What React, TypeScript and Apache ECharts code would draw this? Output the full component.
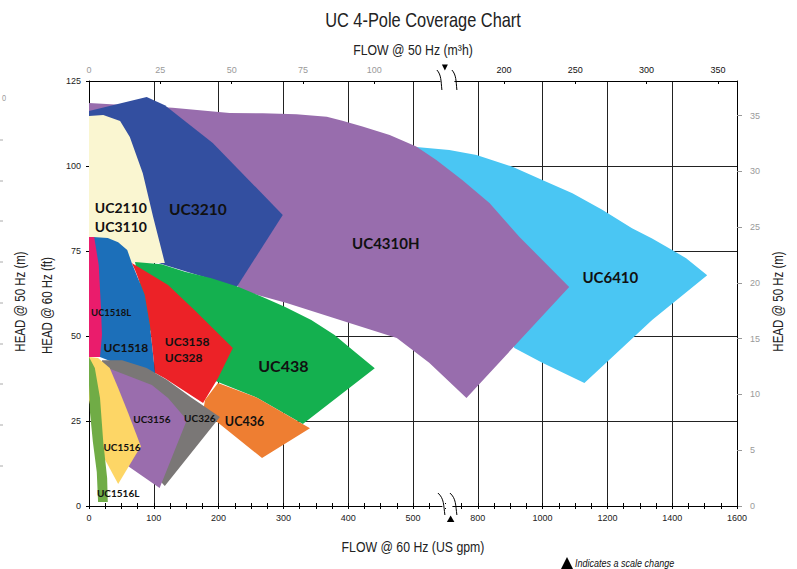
import React, { useEffect, useRef } from "react";
import * as echarts from "echarts";

type Pt = [number, number]; // [flow @ 60 Hz (US gpm), head @ 60 Hz (ft)]

// ---- axis values ----
const BOTTOM_MAX_U = 10; // 0..500 gpm by 100, then 800..1600 by 200 (scale change at 550 / 700)
const TOP_TICKS_M3H = [0, 25, 50, 75, 100, 200, 250, 300, 350];
const RIGHT_TICKS_M = [0, 5, 10, 15, 20, 25, 30, 35];
const HEAD_FT_MAX = 125;
const HEAD_FT_INTERVAL = 25;
const GPM_PER_M3H = 4.403;
const FT_PER_M = 3.28084;

// ---- coverage areas (gpm, ft) ----
const UC6410: Pt[] = [[505, 105.6], [712, 104.7], [796, 103.2], [907, 99.8], [999, 95.9], [1092, 92.0], [1184, 87.1], [1276, 81.7], [1338, 78.7], [1381, 76.3], [1443, 72.9], [1508, 67.9], [1338, 54.7], [1129, 36.2], [999, 42.1], [913, 46.5], [836, 60.6], [525, 98.8]];
const UC4310H: Pt[] = [[0, 118.5], [129, 117.1], [217, 115.6], [268, 115.5], [320, 115.2], [367, 114.5], [391, 113.3], [422, 111.6], [464, 109.1], [505, 105.7], [536, 101.8], [752, 95.9], [836, 89.1], [928, 79.2], [1082, 64.4], [765, 31.8], [525, 42.1], [475, 49.4], [402, 53.8], [305, 59.7], [233, 63.5], [171, 84.1], [0, 115.9]];
const UC3210: Pt[] = [[0, 116.2], [89, 120.3], [117, 117.9], [191, 106.8], [299, 85.6], [228, 64.4], [117, 70.9], [0, 78.2]];
const UC2110: Pt[] = [[0, 114.7], [22, 115.0], [48, 113.2], [63, 108.5], [83, 97.9], [99, 85.0], [117, 71.5], [63, 71.5], [0, 79.1]];
const UC438: Pt[] = [[71, 71.8], [112, 71.1], [148, 68.9], [189, 67.0], [230, 64.5], [266, 61.6], [302, 58.6], [343, 54.7], [379, 50.3], [410, 45.4], [441, 40.5], [330, 24.1], [260, 31.8], [199, 36.5], [156, 40.0], [94, 51.8]];
const UC1518: Pt[] = [[6, 79.1], [29, 78.8], [45, 77.6], [59, 75.3], [66, 71.5], [86, 62.1], [94, 53.2], [102, 39.1], [48, 41.5], [17, 43.8], [6, 60.6]];
const UC1518L: Pt[] = [[0, 79.1], [8, 79.1], [15, 70.9], [18.5, 58.2], [20, 50.3], [17, 43.8], [0, 43.8]];
const UC3158: Pt[] = [[66, 71.5], [122, 65.0], [163, 57.6], [222, 46.5], [199, 37.6], [176, 30.3], [117, 37.6], [102, 39.1], [94, 53.2], [86, 62.1], [71, 69.4]];
const UC436: Pt[] = [[179, 31.2], [199, 36.2], [260, 31.8], [341, 22.9], [267, 14.1], [194, 25.3], [176, 27.6]];
const UC326: Pt[] = [[20, 42.9], [51, 42.9], [89, 40.6], [120, 37.1], [156, 32.1], [202, 26.2], [117, 5.9], [94, 10.6], [48, 31.2], [20, 40.0]];
const UC3156: Pt[] = [[29, 40.6], [66, 37.9], [97, 35.6], [122, 31.8], [151, 25.3], [109, 5.3], [60, 11.8], [45, 32.6]];
const UC1516: Pt[] = [[0, 43.8], [14, 43.5], [32, 40.6], [45, 34.7], [60, 27.6], [80, 17.6], [45, 6.5], [25, 13.5], [11, 22.4], [0, 31.2]];
const UC1516L: Pt[] = [[0, 43.8], [9, 40.6], [17, 31.8], [22, 18.8], [28, 8.2], [29, 1.2], [14, 1.2], [12, 10.0], [6, 18.8], [1.5, 27.6], [0, 35.6]];

// ---- area labels: text, anchor (gpm, ft) ----
const LABEL_TEXT = ["UC2110\nUC3110", "UC3210", "UC4310H", "UC6410", "UC438", "UC3158\nUC328", "UC1518L", "UC1518", "UC3156", "UC326", "UC436", "UC1516", "UC1516L"];
const LABEL_AT: Pt[] = [[9, 85.1], [168, 87.4], [458, 77.4], [1209, 67.4], [300, 41.2], [117, 45.9], [34, 56.8], [57, 46.5], [97, 25.6], [171, 25.9], [240, 25.0], [51, 17.4], [45, 3.8]];

// ---- styles ----
const SHAPES: { name: string; pts: Pt[]; color: string }[] = [
  { name: "UC6410", pts: UC6410, color: "#4AC6F3" },
  { name: "UC4310H", pts: UC4310H, color: "#986DAD" },
  { name: "UC3210", pts: UC3210, color: "#334FA0" },
  { name: "UC2110", pts: UC2110, color: "#FAF6D1" },
  { name: "UC438", pts: UC438, color: "#14B04F" },
  { name: "UC1518", pts: UC1518, color: "#1C6FB9" },
  { name: "UC1518L", pts: UC1518L, color: "#EA1C6C" },
  { name: "UC3158", pts: UC3158, color: "#EC2227" },
  { name: "UC436", pts: UC436, color: "#EE7E32" },
  { name: "UC326", pts: UC326, color: "#7A7776" },
  { name: "UC3156", pts: UC3156, color: "#9A6DAD" },
  { name: "UC1516", pts: UC1516, color: "#FDD666" },
  { name: "UC1516L", pts: UC1516L, color: "#70AC46" },
];
const LABEL_SIZE = [14, 15.5, 15, 15, 16, 12, 9.5, 12, 10, 10, 12.5, 10, 10];
const LABEL_ALIGN = ["left", "center", "center", "center", "center", "left", "center", "center", "center", "center", "center", "center", "center"];
const LABEL_LH = [19, 16, 16, 16, 16, 16, 12, 12, 12, 12, 12, 12, 12];

const SANS = "'Liberation Sans', Arial, sans-serif";
const BOLDF = "Lato, 'Open Sans', sans-serif";
const NARROW_SCALE = 0.82;

function gpmToU(g: number): number {
  return g <= 550 ? g / 100 : 6 + (g - 800) / 200;
}
function uToGpm(u: number): number {
  return u <= 5.5 ? u * 100 : 800 + (u - 6) * 200;
}

export default function App() {
  const ref = useRef<HTMLDivElement>(null);
  useEffect(() => {
    document.body.style.margin = "0";
    const chart = echarts.init(ref.current!, undefined, { renderer: "svg", width: 797, height: 569 });
    const topU = TOP_TICKS_M3H.map((m) => gpmToU(m * GPM_PER_M3H));

    const polySeries: any[] = SHAPES.map((s) => ({
      type: "custom",
      name: s.name,
      coordinateSystem: "cartesian2d",
      xAxisIndex: 0,
      yAxisIndex: 0,
      silent: true,
      data: s.pts.map(([g, h]) => [gpmToU(g), h]),
      renderItem: (params: any, api: any) => {
        if (params.dataIndex !== 0) return null;
        const points = s.pts.map(([g, h]) => api.coord([gpmToU(g), h]));
        return { type: "polygon", shape: { points }, style: { fill: s.color } };
      },
    }));

    const labelSeries = {
      type: "custom",
      name: "labels",
      coordinateSystem: "cartesian2d",
      xAxisIndex: 0,
      yAxisIndex: 0,
      silent: true,
      data: LABEL_AT.map(([g, h]) => [gpmToU(g), h]),
      renderItem: (params: any, api: any) => {
        const i = params.dataIndex;
        const p = api.coord([api.value(0), api.value(1)]);
        return {
          type: "text",
          x: p[0],
          y: p[1],
          style: {
            text: LABEL_TEXT[i],
            fontSize: LABEL_SIZE[i],
            fontWeight: "bold",
            fontFamily: BOLDF,
            fill: "#111",
            align: LABEL_ALIGN[i],
            verticalAlign: "middle",
            lineHeight: LABEL_LH[i],
          },
        };
      },
    };

    const tickLbl = { fontSize: 9, fontFamily: SANS };

    chart.setOption({
      animation: false,
      backgroundColor: "#ffffff",
      grid: { left: 89, right: 60, top: 81, bottom: 63 },
      xAxis: [
        {
          type: "value",
          position: "bottom",
          min: 0,
          max: BOTTOM_MAX_U,
          interval: 1,
          axisLine: { show: true, onZero: false, lineStyle: { color: "#000", width: 1 } },
          axisTick: { show: true, length: 3, lineStyle: { color: "#000" } },
          minorTick: { show: true, splitNumber: 4, length: 3, lineStyle: { color: "#000" } },
          axisLabel: { ...tickLbl, color: "#222", margin: 7, formatter: (v: number) => String(Math.round(uToGpm(v))) },
          splitLine: { show: true, lineStyle: { color: "#222", width: 1 } },
        },
        {
          type: "value",
          position: "top",
          min: 0,
          max: BOTTOM_MAX_U,
          axisLine: { show: true, onZero: false, lineStyle: { color: "#000", width: 1 } },
          axisTick: { show: true, inside: true, length: 3, customValues: topU, lineStyle: { color: "#000" } },
          axisLabel: {
            show: true,
            margin: 7,
            customValues: topU,
            formatter: (v: number) => {
              const m = Math.round(uToGpm(v) / GPM_PER_M3H);
              return m <= 100 ? `{g|${m}}` : `{b|${m}}`;
            },
            rich: { g: { ...tickLbl, color: "#9a9a9a" }, b: { ...tickLbl, color: "#111" } },
          },
          splitLine: { show: false },
        },
        {
          type: "value",
          position: "bottom",
          min: 0,
          max: BOTTOM_MAX_U,
          interval: 1,
          axisLine: { show: false },
          axisTick: { show: true, inside: true, length: 3, lineStyle: { color: "#000" } },
          minorTick: { show: true, splitNumber: 4, length: 3, lineStyle: { color: "#000" } },
          axisLabel: { show: false },
          splitLine: { show: false },
        },
      ],
      yAxis: [
        {
          type: "value",
          position: "left",
          min: 0,
          max: HEAD_FT_MAX,
          interval: HEAD_FT_INTERVAL,
          axisLine: { show: true, onZero: false, lineStyle: { color: "#000", width: 1 } },
          axisTick: { show: true, length: 3, lineStyle: { color: "#000" } },
          axisLabel: { ...tickLbl, color: "#222", margin: 8 },
          splitLine: { show: true, lineStyle: { color: "#222", width: 1 } },
        },
        {
          type: "value",
          position: "right",
          min: 0,
          max: HEAD_FT_MAX / FT_PER_M,
          axisLine: { show: true, onZero: false, lineStyle: { color: "#000", width: 1 } },
          axisTick: { show: true, length: 5, customValues: RIGHT_TICKS_M, lineStyle: { color: "#999" } },
          axisLabel: { ...tickLbl, color: "#9a9a9a", margin: 13, customValues: RIGHT_TICKS_M },
          splitLine: { show: false },
        },
      ],
      series: [...polySeries, labelSeries],
    });

    const xb = chart.convertToPixel({ xAxisIndex: 0 }, 5.5) as number;
    const yT = chart.convertToPixel({ yAxisIndex: 0 }, HEAD_FT_MAX) as number;
    const yB = chart.convertToPixel({ yAxisIndex: 0 }, 0) as number;
    const xMid = (89 + 737) / 2;
    const yMid = (yT + yB) / 2 + 8;

    const squig = (x1: number, y1: number, x2: number, y2: number) => {
      const dx = x2 - x1, dy = y2 - y1;
      return {
        type: "bezierCurve",
        z: 100,
        shape: { x1, y1, cpx1: x1 + dx * 0.9, cpy1: y1 + dy * 0.25, cpx2: x2 - dx * 0.2, cpy2: y1 + dy * 0.55, x2, y2 },
        style: { stroke: "#000", lineWidth: 1, fill: null },
      };
    };
    const txt = (text: string, x: number, y: number, size: number, extra: any = {}) => ({
      type: "text",
      z: 100,
      x,
      y,
      scaleX: NARROW_SCALE,
      ...extra,
      style: { text, fontSize: size, fontFamily: SANS, fill: "#222", align: "center", verticalAlign: "middle", ...(extra.style || {}) },
    });
    const leftTicks = [140, 181, 221, 262, 303, 344, 384, 425, 466];

    chart.setOption({
      graphic: [
        { type: "rect", z: 99, shape: { x: xb - 5, y: yT - 2, width: 14, height: 4 }, style: { fill: "#fff" } },
        { type: "rect", z: 99, shape: { x: xb - 3, y: yB - 2, width: 10, height: 4 }, style: { fill: "#fff" } },
        squig(xb - 8.5, yT - 11, xb - 3.5, yT + 9),
        squig(xb + 6.5, yT - 11, xb + 11.5, yT + 9),
        squig(xb - 7.5, yB - 13, xb - 0.5, yB + 9),
        squig(xb + 4.5, yB - 13, xb + 11.5, yB + 9),
        { type: "polygon", z: 100, shape: { points: [[xb - 3.5, yT - 16.5], [xb + 2.5, yT - 16.5], [xb - 0.5, yT - 10.5]] }, style: { fill: "#000" } },
        { type: "polygon", z: 100, shape: { points: [[xb + 1.5, yB + 16], [xb + 9, yB + 16], [xb + 5.2, yB + 9.5]] }, style: { fill: "#000" } },
        { type: "polygon", z: 100, shape: { points: [[561, 569], [573, 569], [567, 557]] }, style: { fill: "#000" } },
        txt("Indicates a scale change", 575, 563, 11, { style: { align: "left", fontStyle: "italic", fill: "#111" } }),
        txt("UC 4-Pole Coverage Chart", 423, 20, 20),
        txt("FLOW @ 50 Hz (m\u00b3h)", xMid, 50, 15),
        txt("FLOW @ 60 Hz (US gpm)", xMid, 547, 15),
        txt("HEAD @ 60 Hz (ft)", 47, yMid + 4, 14, { rotation: Math.PI / 2 }),
        txt("HEAD @ 50 Hz (m)", 20, yMid, 14, { rotation: Math.PI / 2 }),
        txt("HEAD @ 50 Hz (m)", 778, yMid, 14, { rotation: Math.PI / 2 }),
        txt("0", 4, 98, 9, { style: { fill: "#999" } }),
        ...leftTicks.map((y) => ({ type: "line", z: 100, shape: { x1: 0, y1: y, x2: 3, y2: y }, style: { stroke: "#aaa", lineWidth: 1 } })),
      ],
    });

    return () => chart.dispose();
  }, []);
  return <div ref={ref} style={{ position: "absolute", left: 0, top: 0, width: 797, height: 569 }} />;
}
